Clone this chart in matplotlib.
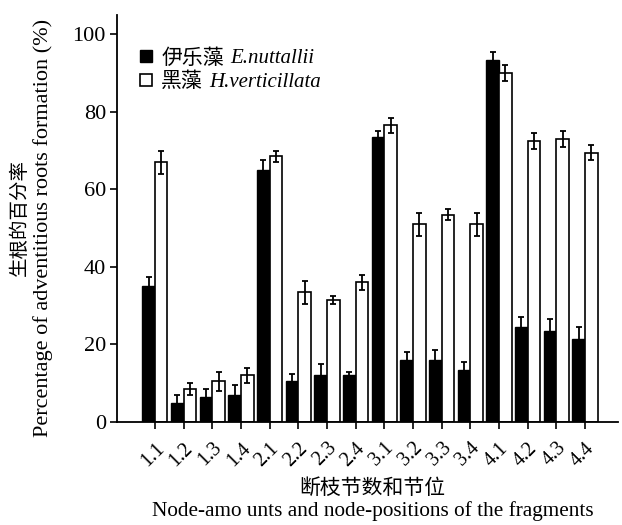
import matplotlib
matplotlib.use("Agg")
import matplotlib.pyplot as plt
import numpy as np

categories = ["1.1", "1.2", "1.3", "1.4", "2.1", "2.2", "2.3", "2.4",
              "3.1", "3.2", "3.3", "3.4", "4.1", "4.2", "4.3", "4.4"]
e_nuttallii = [35, 5, 6.5, 7, 65, 10.5, 12, 12, 73.5, 16, 16, 13.5, 93.5, 24.5, 23.5, 21.5]
e_nuttallii_err = [2.5, 2, 2, 2.5, 2.5, 2, 3, 1, 1.5, 2, 2.5, 2, 2, 2.5, 3, 3]
h_verticillata = [67, 8.5, 10.5, 12, 68.5, 33.5, 31.5, 36, 76.5, 51, 53.5, 51, 90, 72.5, 73, 69.5]
h_verticillata_err = [3, 1.5, 2.5, 2, 1.5, 3, 1, 2, 2, 3, 1.5, 3, 2, 2, 2, 2]
yticks = [0, 20, 40, 60, 80, 100]
legend_cn = ["伊乐藻", "黑藻"]
legend_latin = ["E.nuttallii", "H.verticillata"]

FAM = ["Liberation Serif", "Noto Sans CJK SC"]
plt.rcParams["font.family"] = FAM

fig = plt.figure(figsize=(6.22, 5.25), dpi=100)
ax = fig.add_axes([117/622, 1-422/525, (618-117)/622, (422-15)/525])

x = np.arange(len(categories))
w = 0.44
ax.bar(x - w/2, e_nuttallii, w, color="black", edgecolor="black", linewidth=1,
       yerr=e_nuttallii_err, error_kw=dict(ecolor="black", elinewidth=1.3, capsize=2.5, capthick=1.3),
       label=legend_cn[0])
ax.bar(x + w/2, h_verticillata, w, color="white", edgecolor="black", linewidth=1.2,
       yerr=h_verticillata_err, error_kw=dict(ecolor="black", elinewidth=1.3, capsize=2.5, capthick=1.3),
       label=legend_cn[1])

ax.set_xlim(-1.32, 15 + 1.15)
ax.set_ylim(0, 105)
ax.set_yticks(yticks)
ax.set_xticks(x)
ax.set_xticklabels(categories, rotation=45, ha="right", rotation_mode="anchor", fontsize=14.5)
ax.tick_params(axis="y", labelsize=16, length=5, width=1.2, direction="out", pad=3)
ax.tick_params(axis="x", length=5, width=1.2, direction="out", pad=7)
for s in ["top", "right"]:
    ax.spines[s].set_visible(False)
for s in ["left", "bottom"]:
    ax.spines[s].set_linewidth(1.3)

leg = ax.legend(loc="upper left", bbox_to_anchor=(0.03, 0.937), frameon=False, fontsize=15,
                handlelength=0.55, handleheight=0.55, handletextpad=0.45, labelspacing=0.2,
                borderaxespad=0)

fig.text(20/622, 1-218/525, "生根的百分率", rotation=90, ha="center", va="center", fontsize=14)
fig.text(43/622, 1-228/525, "Percentage of adventitious roots formation (%)", rotation=90,
         ha="center", va="center", fontsize=16)
fig.text(372/622, 1-489/525, "断枝节数和节位", ha="center", va="center", fontsize=15)
fig.text(373/622, 1-511/525, "Node-amo unts and node-positions of the fragments", ha="center",
         va="center", fontsize=15.3)

fig.canvas.draw()
renderer = fig.canvas.get_renderer()
inv = fig.transFigure.inverted()
for t, latin in zip(leg.get_texts(), legend_latin):
    bb = t.get_window_extent(renderer)
    x0, y0 = inv.transform((bb.x1 + 6, (bb.y0 + bb.y1) / 2))
    fig.text(x0, y0, latin, style="italic", fontsize=15, ha="left", va="center",
             family="Liberation Serif")

fig.savefig("out.png", dpi=100)
